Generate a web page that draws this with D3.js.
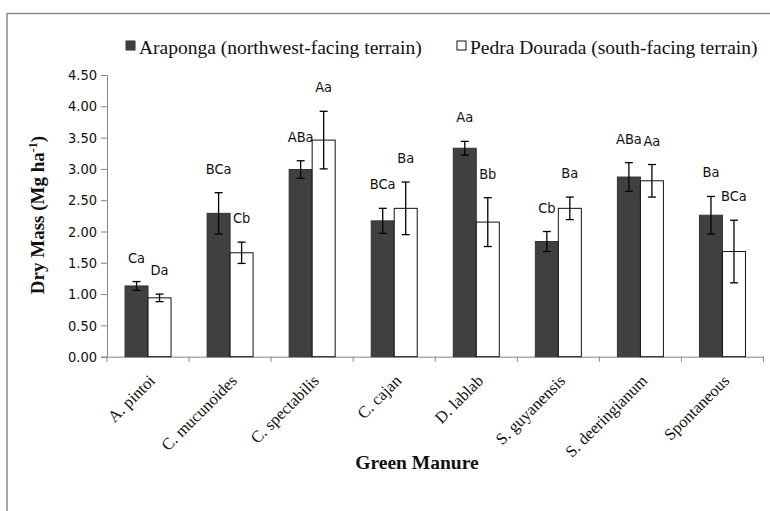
<!DOCTYPE html>
<html>
<head>
<meta charset="utf-8">
<script src="https://cdn.jsdelivr.net/npm/d3@7"></script>
<style>
  body { margin: 0; background: #fff; }
  .num { font-family: "DejaVu Sans Condensed", "DejaVu Sans", sans-serif; font-size: 14.5px; fill: #111; }
  .serif { font-family: "Liberation Serif", "Times New Roman", serif; fill: #111; }
</style>
</head>
<body>
<svg id="chart" width="770" height="511"></svg>
<script>
// values
const categories = ['A. pintoi', 'C. mucunoides', 'C. spectabilis', 'C. cajan', 'D. lablab', 'S. guyanensis', 'S. deeringianum', 'Spontaneous']
const araponga = [1.13, 2.29, 2.99, 2.17, 3.33, 1.84, 2.87, 2.26]
const arapongaErr = [0.07, 0.33, 0.14, 0.20, 0.11, 0.16, 0.23, 0.30]
const pedra = [0.94, 1.66, 3.46, 2.37, 2.15, 2.37, 2.81, 1.68]
const pedraErr = [0.06, 0.17, 0.46, 0.42, 0.39, 0.18, 0.26, 0.50]
const arapongaLetters = ['Ca', 'BCa', 'ABa', 'BCa', 'Aa', 'Cb', 'ABa', 'Ba']
const pedraLetters = ['Da', 'Cb', 'Aa', 'Ba', 'Bb', 'Ba', 'Aa', 'BCa']
const yTicks = [0, 0.5, 1, 1.5, 2, 2.5, 3, 3.5, 4, 4.5]
const seriesNames = ['Araponga (northwest-facing terrain)', 'Pedra Dourada (south-facing terrain)']

const svg = d3.select('#chart')
const axisColor = '#868686'
const barW = 23

// outer frame (only top and left edges show in the crop)
svg.append('path')
    .attr('d', 'M7,511 V13.5 H770')
    .attr('fill', 'none')
    .attr('stroke', '#8a8a8a')
    .attr('stroke-width', 1.5)

const x = d3.scaleBand()
    .domain(categories)
    .range([107, 763.5])

const y = d3.scaleLinear()
    .domain([0, 4.5])
    .range([356.7, 75])

// y axis
const yAxis = svg.append('g')
    .attr('transform', 'translate(107,0)')
    .call(d3.axisLeft(y).tickValues(yTicks).tickFormat(d3.format('.2f')).tickSize(6).tickPadding(4))
yAxis.select('.domain').attr('stroke', axisColor)
yAxis.selectAll('.tick line').attr('stroke', axisColor)
yAxis.selectAll('.tick text').attr('class', 'num').attr('font-family', null).attr('font-size', null)

// x axis: ticks between the groups
const xAxis = svg.append('g')
    .attr('transform', `translate(0,${y(0)})`)
    .call(d3.axisBottom(x).tickSize(0).tickFormat(''))
xAxis.select('.domain').attr('stroke', axisColor)
xAxis.selectAll('.tick').remove()
const edges = categories.map(c => x(c)).concat([x.range()[1]])
xAxis.selectAll('line.sep')
    .data(edges)
    .enter().append('line')
        .attr('class', 'sep')
        .attr('x1', d => d).attr('x2', d => d)
        .attr('y1', 0).attr('y2', 5)
        .attr('stroke', axisColor)

const groups = svg.selectAll('g.grp')
    .data(categories)
    .enter().append('g')
        .attr('class', 'grp')
        .attr('transform', d => `translate(${x(d) + x.bandwidth() / 2},0)`)

const series = [
    { vals: araponga, err: arapongaErr, letters: arapongaLetters, fill: '#404040', stroke: '#333', dx: -barW },
    { vals: pedra, err: pedraErr, letters: pedraLetters, fill: '#fff', stroke: '#111', dx: 0 }
]

series.forEach(s => {
    groups.append('rect')
        .attr('x', s.dx)
        .attr('y', (d, i) => y(s.vals[i]))
        .attr('width', barW)
        .attr('height', (d, i) => y(0) - y(s.vals[i]))
        .attr('fill', s.fill)
        .attr('stroke', s.stroke)
        .attr('stroke-width', 1)

    const cx = s.dx + barW / 2
    const eb = groups.append('g').attr('stroke', '#000').attr('stroke-width', 1.3)
    eb.append('line')
        .attr('x1', cx).attr('x2', cx)
        .attr('y1', (d, i) => y(s.vals[i] + s.err[i]))
        .attr('y2', (d, i) => y(s.vals[i] - s.err[i]))
    ;[1, -1].forEach(sign => {
        eb.append('line')
            .attr('x1', cx - 4).attr('x2', cx + 4)
            .attr('y1', (d, i) => y(s.vals[i] + sign * s.err[i]))
            .attr('y2', (d, i) => y(s.vals[i] + sign * s.err[i]))
    })

    groups.append('text')
        .attr('class', 'num')
        .attr('text-anchor', 'middle')
        .attr('x', cx)
        .attr('y', (d, i) => y(s.vals[i] + s.err[i]) - 19)
        .text((d, i) => s.letters[i])
})

// category labels, rotated
groups.append('text')
    .attr('class', 'serif')
    .attr('font-size', 16.5)
    .attr('text-anchor', 'end')
    .attr('transform', `translate(8,${y(0) + 25}) rotate(-45)`)
    .text(d => d)

// axis titles
svg.append('text')
    .attr('class', 'serif')
    .attr('font-size', 19.5)
    .attr('font-weight', 'bold')
    .attr('text-anchor', 'middle')
    .attr('x', 417).attr('y', 469)
    .text('Green Manure')

const yt = svg.append('text')
    .attr('class', 'serif')
    .attr('font-size', 19)
    .attr('font-weight', 'bold')
    .attr('text-anchor', 'middle')
    .attr('transform', 'translate(44,215) rotate(-90)')
yt.append('tspan').text('Dry Mass (Mg ha')
yt.append('tspan').attr('font-size', 12).attr('dy', -7).text('-1')
yt.append('tspan').attr('dy', 7).text(')')

// legend
const legendX = [126, 457]
const legend = svg.selectAll('g.leg')
    .data(seriesNames)
    .enter().append('g')
        .attr('class', 'leg')
        .attr('transform', (d, i) => `translate(${legendX[i]},41)`)
legend.append('rect')
    .attr('width', 9).attr('height', 9)
    .attr('fill', (d, i) => series[i].fill)
    .attr('stroke', (d, i) => series[i].stroke)
legend.append('text')
    .attr('class', 'serif')
    .attr('font-size', 19.5)
    .attr('x', 13).attr('y', 13)
    .text(d => d)
</script>
</body>
</html>
